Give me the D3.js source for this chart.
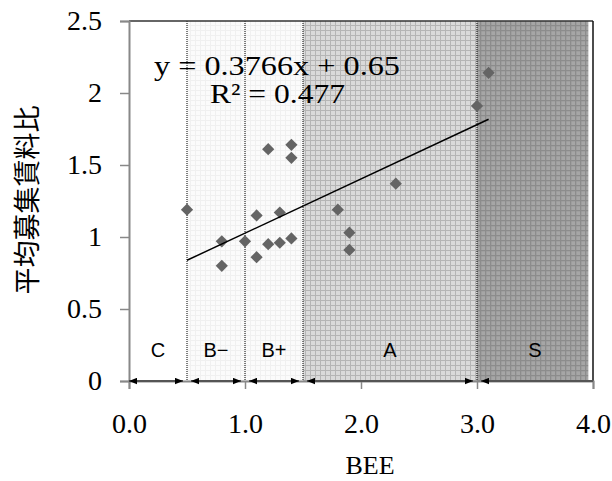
<!DOCTYPE html>
<html>
<head>
<meta charset="utf-8">
<script src="https://cdn.jsdelivr.net/npm/d3@7"></script>
<style>
  body { margin: 0; background: #fff; }
  svg { display: block; }
</style>
</head>
<body>
<div id="chart"></div>
<script>
// BEE value and rent ratio of each building
const bee = [0.5, 0.8, 0.8, 1.0, 1.1, 1.1, 1.2, 1.2, 1.3, 1.3, 1.4, 1.4, 1.4, 1.8, 1.9, 1.9, 2.3, 3.0, 3.1];
const ratio = [1.19, 0.97, 0.80, 0.97, 1.15, 0.86, 1.61, 0.95, 1.17, 0.96, 1.64, 1.55, 0.99, 1.19, 1.03, 0.91, 1.37, 1.91, 2.14];

// rank bands on the BEE axis
const grades = ["C", "B\u2212", "B+", "A", "S"];
const gradeFrom = [0, 0.5, 1.0, 1.5, 3.0];
const gradeTo = [0.5, 1.0, 1.5, 3.0, 4.0];

const xTicks = [0, 1, 2, 3, 4];
const yTicks = [0, 0.5, 1, 1.5, 2, 2.5];

// linear trend from the source
const slope = 0.3766, intercept = 0.65;

const W = 612, H = 481;
const margin = { top: 21, right: 19, bottom: 100, left: 129 };

const svg = d3.select("#chart").append("svg")
    .attr("width", W).attr("height", H);

const x = d3.scaleLinear().domain([0, 4]).range([margin.left, W - margin.right]);
const y = d3.scaleLinear().domain([0, 2.5]).range([H - margin.bottom, margin.top]);

// fill patterns for the bands
const defs = svg.append("defs");
function grid(id, bg, line, w) {
  const p = defs.append("pattern").attr("id", id)
      .attr("patternUnits", "userSpaceOnUse").attr("width", 5).attr("height", 5);
  p.append("rect").attr("width", 5).attr("height", 5).attr("fill", bg);
  p.append("path").attr("d", "M0,0.5H5M0.5,0V5")
      .attr("stroke", line).attr("stroke-width", w);
}
grid("pC", "#ffffff", "#ffffff", 1);
grid("pB", "#fbfbfb", "#f0f0f0", 1);
grid("pA", "#dadada", "#b5b5b5", 1);
grid("pS", "#a6a6a6", "#8c8c8c", 1.6);
const fills = ["url(#pC)", "url(#pB)", "url(#pB)", "url(#pA)", "url(#pS)"];

svg.append("g").selectAll("rect")
  .data(grades)
  .join("rect")
    .attr("x", (d, i) => x(gradeFrom[i]))
    .attr("y", y(2.5))
    .attr("width", (d, i) => x(i === 4 ? 3.96 : gradeTo[i]) - x(gradeFrom[i]))
    .attr("height", y(0) - y(2.5))
    .attr("fill", (d, i) => fills[i]);

// dotted band borders
svg.append("g").selectAll("line")
  .data(gradeFrom.slice(1))
  .join("line")
    .attr("x1", d => x(d)).attr("x2", d => x(d))
    .attr("y1", y(2.5)).attr("y2", y(0))
    .attr("stroke", "#000").attr("stroke-width", 1)
    .attr("stroke-dasharray", "1,1");

// frame
svg.append("line")
    .attr("x1", x(0)).attr("x2", x(4)).attr("y1", y(2.5)).attr("y2", y(2.5))
    .attr("stroke", "#333").attr("stroke-width", 1.5);
svg.append("line")
    .attr("x1", x(4)).attr("x2", x(4)).attr("y1", y(2.5)).attr("y2", y(0))
    .attr("stroke", "#111").attr("stroke-width", 1.5);

// axes
const serif = "'Liberation Serif', 'Times New Roman', serif";
const yAxis = svg.append("g")
    .attr("transform", `translate(${x(0)},0)`)
    .call(d3.axisLeft(y).tickValues(yTicks).tickFormat(d3.format("")).tickSize(9).tickPadding(18));
const xAxis = svg.append("g")
    .attr("transform", `translate(0,${y(0)})`)
    .call(d3.axisBottom(x).tickValues(xTicks).tickFormat(d3.format(".1f")).tickSize(8).tickPadding(24));
[yAxis, xAxis].forEach(a => {
  a.select(".domain").attr("stroke", "#888").attr("stroke-width", 2);
  a.selectAll(".tick line").attr("stroke", "#888").attr("stroke-width", 1.5);
  a.selectAll(".tick text").attr("fill", "#000")
      .style("font-family", serif).style("font-size", "28px");
});

// band arrows
const arrows = svg.append("g");
arrows.append("defs").html(
  '<marker id="ah" viewBox="0 0 10 8" refX="10" refY="4" markerWidth="8" markerHeight="7" markerUnits="userSpaceOnUse" orient="auto-start-reverse">' +
  '<path d="M0,0L10,4L0,8Z" fill="#000"/></marker>');
arrows.selectAll("line")
  .data(grades)
  .join("line")
    .attr("x1", (d, i) => x(gradeFrom[i]) + (i ? 4 : 0))
    .attr("x2", (d, i) => x(gradeTo[i]) - (i < 4 ? 4 : 0))
    .attr("y1", y(0)).attr("y2", y(0))
    .attr("stroke", "#555").attr("stroke-width", 2)
    .attr("marker-start", "url(#ah)")
    .attr("marker-end", (d, i) => i < 4 ? "url(#ah)" : null);

arrows.selectAll("text")
  .data(grades)
  .join("text")
    .attr("x", (d, i) => x((gradeFrom[i] + gradeTo[i]) / 2))
    .attr("y", 357)
    .attr("text-anchor", "middle")
    .style("font-family", "'Liberation Sans', Arial, sans-serif")
    .style("font-size", "20px")
    .text(d => d);

// points
const diamond = d3.symbol().type(d3.symbolDiamond2).size(95);
svg.append("g").selectAll("path")
  .data(bee)
  .join("path")
    .attr("transform", (d, i) => `translate(${x(d)},${y(ratio[i])})`)
    .attr("d", diamond)
    .attr("fill", "#646464");

// trend line
const xr = d3.extent(bee);
svg.append("line")
    .attr("x1", x(xr[0])).attr("y1", y(slope * xr[0] + intercept))
    .attr("x2", x(xr[1])).attr("y2", y(slope * xr[1] + intercept))
    .attr("stroke", "#000").attr("stroke-width", 1.5);

// equation
svg.append("text")
    .attr("x", 154).attr("y", 75)
    .attr("textLength", 246).attr("lengthAdjust", "spacingAndGlyphs")
    .style("font-family", serif).style("font-size", "28px")
    .text(`y = ${slope}x + ${intercept}`);
svg.append("text")
    .attr("x", 210).attr("y", 103)
    .attr("textLength", 135).attr("lengthAdjust", "spacingAndGlyphs")
    .style("font-family", serif).style("font-size", "28px")
    .text("R\u00b2 = 0.477");

// axis titles
svg.append("text")
    .attr("x", 370).attr("y", 474)
    .attr("text-anchor", "middle")
    .style("font-family", serif).style("font-size", "26px")
    .text("BEE");
svg.append("text")
    .attr("transform", "translate(37,200) rotate(-90)")
    .attr("text-anchor", "middle")
    .style("font-family", "'Noto Sans CJK JP', sans-serif")
    .style("font-size", "27px")
    .text("平均募集賃料比");
</script>
</body>
</html>
